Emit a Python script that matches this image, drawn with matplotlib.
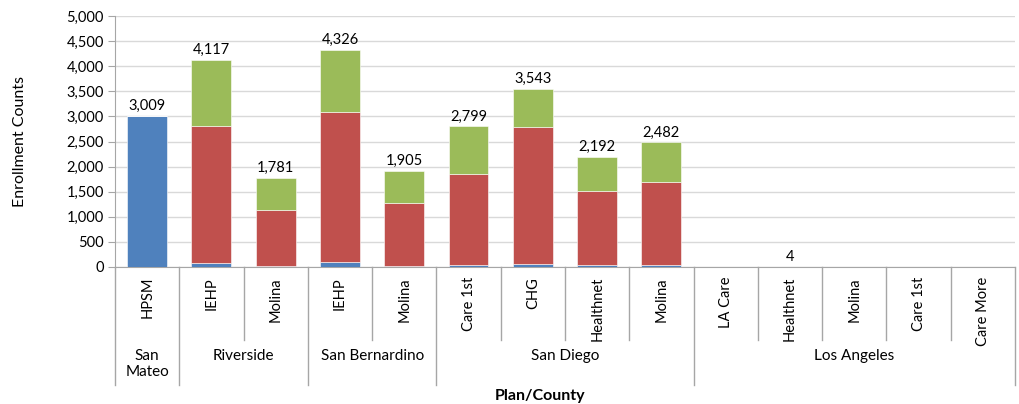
import numpy as np
import matplotlib.pyplot as plt
from matplotlib.lines import Line2D

plt.rcParams['font.family'] = ['Lato', 'DejaVu Sans']

# plans, grouped by county
plans = ['HPSM', 'IEHP', 'Molina', 'IEHP', 'Molina', 'Care 1st', 'CHG', 'Healthnet', 'Molina',
         'LA Care', 'Healthnet', 'Molina', 'Care 1st', 'Care More']
counties = ['San\nMateo', 'Riverside', 'San Bernardino', 'San Diego', 'Los Angeles']
county_sizes = [1, 2, 2, 4, 5]

blue = [3009, 85, 10, 105, 10, 45, 50, 40, 35, 0, 0, 0, 0, 0]
red = [0, 2730, 1135, 2990, 1270, 1815, 2740, 1480, 1665, 0, 4, 0, 0, 0]
totals = [3009, 4117, 1781, 4326, 1905, 2799, 3543, 2192, 2482, 0, 4, 0, 0, 0]
green = [t - b - r for t, b, r in zip(totals, blue, red)]

c_blue = '#4F81BD'
c_red = '#C0504D'
c_green = '#9BBB59'
line_c = '#A6A6A6'

fig = plt.figure(figsize=(10.2, 4.04), dpi=100)
ax = fig.add_axes([115 / 1020, (404 - 267) / 404, 900 / 1020, 251 / 404])

x = np.arange(len(plans)) + 0.5
w = 0.62
ax.bar(x, blue, w, color=c_blue, edgecolor='white', linewidth=0.4, zorder=3)
ax.bar(x, red, w, bottom=blue, color=c_red, edgecolor='white', linewidth=0.4, zorder=3)
ax.bar(x, green, w, bottom=np.array(blue) + np.array(red), color=c_green,
       edgecolor='white', linewidth=0.4, zorder=3)

for xi, t in zip(x, totals):
    if t > 0:
        ax.text(xi, t + 60, f'{t:,}', ha='center', va='bottom', fontsize=10.5)

ax.set_xlim(0, len(plans))
ax.set_ylim(0, 5000)
ax.set_yticks(np.arange(0, 5001, 500))
ax.set_yticklabels([f'{v:,}' for v in range(0, 5001, 500)], fontsize=10.5)
ax.set_xticks([])
ax.grid(axis='y', color='#D9D9D9', linewidth=1, zorder=0)
for s in ['top', 'right']:
    ax.spines[s].set_visible(False)
ax.spines['left'].set_color(line_c)
ax.spines['bottom'].set_color(line_c)
ax.tick_params(axis='y', length=5, color=line_c, pad=3)
ax.set_ylabel('Enrollment Counts', fontsize=11.5)
ax.yaxis.set_label_coords(-(115 - 27) / 900, 0.5)

# multi-level category axis
tr = ax.get_xaxis_transform()
plan_bottom = -(340 - 267) / 251
county_bottom = -(385 - 267) / 251
bounds = np.cumsum([0] + county_sizes)
for i in range(len(plans) + 1):
    y0 = county_bottom if i in bounds else plan_bottom
    ax.add_line(Line2D([i, i], [0, y0], transform=tr, color=line_c, lw=1, clip_on=False))
for xi, p in zip(x, plans):
    ax.text(xi, -10 / 251, p, transform=tr, rotation=90, ha='center', va='top', fontsize=10.5)
for k, c in enumerate(counties):
    cx = (bounds[k] + bounds[k + 1]) / 2
    ax.text(cx, -(349 - 267) / 251, c, transform=tr, ha='center', va='top', fontsize=11,
            linespacing=1.2)

fig.text(540 / 1020, 1 - 396 / 404, 'Plan/County', ha='center', va='center',
         fontsize=11.5, fontweight='bold')

fig.savefig('out.png', dpi=100)
